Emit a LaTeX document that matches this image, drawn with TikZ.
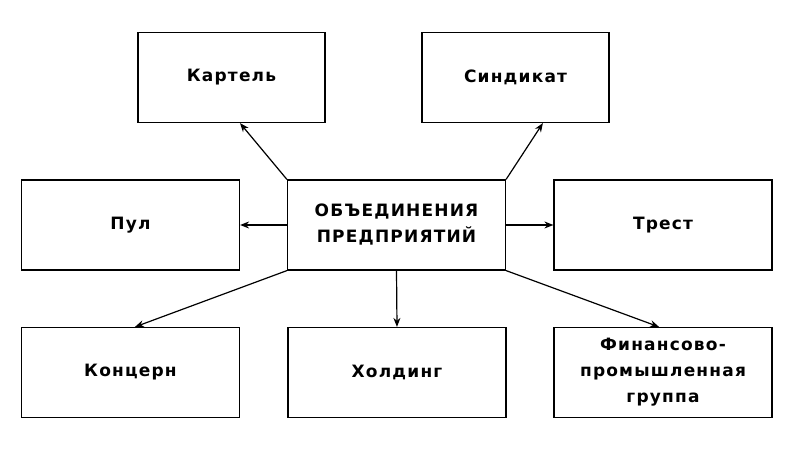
\documentclass[tikz,border=0pt]{standalone}
\usepackage{fontspec}
\setmainfont{DejaVu Sans}[LetterSpace=7]
\usetikzlibrary{arrows.meta}
\begin{document}
\begin{tikzpicture}[x=1bp,y=-1bp,
  box/.style={draw, line width=1.2bp, minimum width=187bp, minimum height=90bp, inner sep=0pt, align=center,
    font=\fontsize{17bp}{26bp}\selectfont\bfseries},
  wbox/.style={box, minimum width=218bp},
  conn/.style={line width=1.2bp, -{Stealth[length=9bp,width=7bp]}}]
\useasboundingbox (0,0) rectangle (800,459);
\node[wbox] (c) at (396.5,225) {ОБЪЕДИНЕНИЯ\\ПРЕДПРИЯТИЙ};
\node[box] (kart) at (231.5,77.5) {Картель};
\node[box] (sind) at (515.5,77.5) {Синдикат};
\node[wbox] (pul) at (130.5,225) {Пул};
\node[wbox] (trest) at (663,225) {Трест};
\node[wbox] (konc) at (130.5,372.5) {Концерн};
\node[wbox] (hold) at (397,372.5) {Холдинг};
\node[wbox] (fin) at (663,372.5) {Финансово-\\промышленная\\группа};
\draw[conn] (c.north west) -- ([xshift=8.5]kart.south);
\draw[conn] (c.north east) -- ([xshift=27.5]sind.south);
\draw[conn] (c.west) -- (pul.east);
\draw[conn] (c.east) -- (trest.west);
\draw[conn] (c.south west) -- ([xshift=4.5]konc.north);
\draw[conn] (c.south) -- (hold.north);
\draw[conn] (c.south east) -- ([xshift=-4]fin.north);
\end{tikzpicture}
\end{document}
